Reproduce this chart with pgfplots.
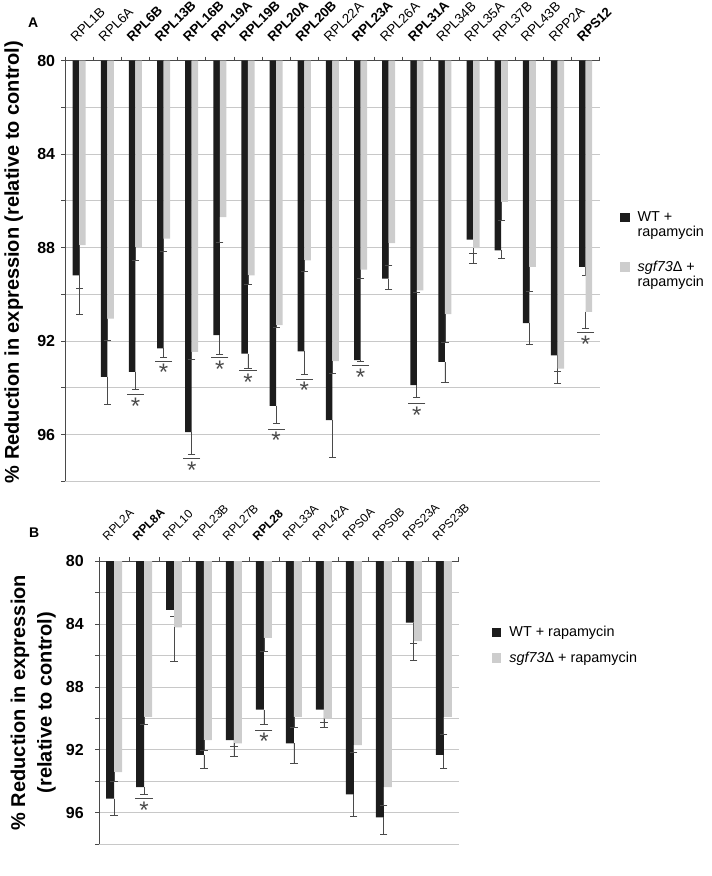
\documentclass[border=0pt]{standalone}
\usepackage{pgfplots}
\usepackage{pgfplotstable}
\pgfplotsset{compat=1.18}
\usepackage{fontspec}
\setmainfont{Liberation Sans}
\setsansfont{Liberation Sans}

\definecolor{barblack}{HTML}{1C1C1C}
\definecolor{bargrey}{HTML}{CDCDCD}
\definecolor{gridgrey}{HTML}{C8C8C8}
\definecolor{axisgrey}{HTML}{4A4A4A}

% idx, WT + rapamycin, its error, sgf73 + rapamycin, its error
\pgfplotstableread{
x wt wte sg sge
0 89.19 1.68 87.90 1.86
1 93.53 1.18 91.04 0.93
2 93.32 0.75 87.98 0.57
3 92.31 0.41 87.62 0.53
4 95.90 0.95 92.46 0.33
5 91.75 0.84 86.70 1.08
6 92.54 0.64 89.19 0.40
7 94.77 0.76 91.32 0.10
8 92.44 0.98 88.55 0.47
9 95.38 1.61 92.86 0.53
10 92.82 0.07 88.95 0.38
11 89.33 0.47 87.81 0.95
12 93.89 0.54 89.83 0.11
13 92.89 0.87 90.85 1.19
14 87.66 0.57 88.02 0.67
15 88.12 0.33 86.05 0.79
16 91.23 0.92 88.83 1.03
17 92.61 0.68 93.18 0.64
18 88.83 0.36 90.75 0.69
}\tabA

\pgfplotstableread{
x wt wte sg sge
0 95.11 1.09 93.43 0.57
1 94.38 0.46 89.91 0.49
2 83.10 0.42 84.21 2.18
3 92.33 0.83 91.38 0.67
4 91.38 1.05 91.59 0.21
5 89.45 0.95 84.88 0.88
6 91.59 1.26 89.91 0.69
7 89.45 0.84 90.02 0.53
8 94.84 1.40 91.70 0.46
9 96.31 1.09 94.38 1.19
10 83.90 1.36 85.09 1.20
11 92.33 0.83 89.91 1.12
}\tabB

% significance marks (x, y of the line)
\pgfplotstableread{
x y
2 94.30
3 92.86
4 97.02
5 92.71
6 93.28
7 95.77
8 93.63
10 93.06
12 94.67
18 91.64
}\sigA

\pgfplotstableread{
x y
1 95.09
5 90.75
}\sigB

\pgfplotsset{
  panel/.style={
    scale only axis,
    anchor=center,
    y dir=reverse,
    ymin=80, ymax=98,
    enlargelimits=false,
    ytick={80,82,...,98},
    yticklabels={80,,84,,88,,92,,96,},
    ymajorgrids,
    grid style={gridgrey, line width=0.6pt},
    axis x line*=top,
    axis y line*=left,
    axis line style={axisgrey, line width=0.8pt},
    tick align=outside,
    major tick length=3pt,
    minor tick length=3pt,
    major x tick style={draw=none},
    minor x tick style={axisgrey, line width=0.6pt},
    y tick style={axisgrey, line width=0.6pt},
    yticklabel style={font=\fontsize{12}{12}\selectfont\bfseries, xshift=-1pt},
    xticklabel style={rotate=45, anchor=base west, inner sep=0pt},
    ylabel style={font=\fontsize{15}{20}\selectfont\bfseries, anchor=center, align=center},
    legend cell align=left,
    legend style={draw=none, fill=none, font=\fontsize{10.8}{11.5}\selectfont,
      cells={align=left}, row sep=12.5pt, column sep=4pt},
  },
  sqlegend/.style={legend image code/.code={\fill[##1] (0pt,-3.6pt) rectangle (7.2pt,3.6pt);}},
  sqlegendup/.style={legend image code/.code={\fill[##1] (0pt,2.2pt) rectangle (7.2pt,9.4pt);}},
  errs/.style={error bars/.cd, y dir=plus, y explicit,
    error bar style={axisgrey, line width=0.6pt},
    error mark options={axisgrey, line width=0.6pt, mark size=2.7pt, rotate=90}},
  wtbar/.style={ybar, bar width=#1, bar shift=-#1/2, fill=barblack, draw=none, errs},
  sgbar/.style={ybar, bar width=#1, bar shift=#1/2, fill=bargrey, draw=none, errs},
  sigmark/.style={only marks, mark=-, mark size=6.4pt,
    mark options={axisgrey, line width=0.8pt}, forget plot,
    nodes near coords={*},
    every node near coord/.style={font=\fontsize{18}{18}\selectfont, text=axisgrey,
      anchor=base, inner sep=0pt, yshift=-14.8pt}},
}

\begin{document}
\begin{tikzpicture}[x=1pt,y=1pt]
\path (0,0) rectangle (531.75,-657);

\node[font=\fontsize{10.5}{10.5}\selectfont\bfseries] at (22.5,-16.5) {A};
\node[font=\fontsize{10.5}{10.5}\selectfont\bfseries] at (23.25,-399) {B};

\begin{axis}[panel,
  at={(247.125pt,-202.875pt)},
  width=401.25pt, height=315.75pt,
  xmin=-0.5, xmax=18.5,
  xtick={0,...,18},
  minor xtick={-0.5,0.5,...,18.5},
  xticklabel style={font=\fontsize{10}{11}\selectfont, xshift=5.5pt, yshift=9pt},
  xticklabels={RPL1B,RPL6A,\textbf{RPL6B},\textbf{RPL13B},\textbf{RPL16B},\textbf{RPL19A},
    \textbf{RPL19B},\textbf{RPL20A},\textbf{RPL20B},RPL22A,\textbf{RPL23A},RPL26A,
    \textbf{RPL31A},RPL34B,RPL35A,RPL37B,RPL43B,RPP2A,\textbf{RPS12}},
  ylabel={\% Reduction in expression (relative to control)},
  ylabel style={at={(axis description cs:-0.096,0.521)}},
  legend style={at={(axis description cs:1.03,0.654)}, anchor=north west},
]
\addplot[sqlegendup, wtbar=4.9pt] table[x=x, y=wt, y error=wte]{\tabA};
\addplot[sqlegendup, sgbar=4.9pt] table[x=x, y=sg, y error=sge]{\tabA};
\addplot[sigmark] table[x=x, y=y]{\sigA};
\legend{WT +\\rapamycin, \textit{sgf73}Δ +\\rapamycin}
\end{axis}

\begin{axis}[panel,
  at={(207pt,-526.875pt)},
  width=270pt, height=212.25pt,
  xmin=-0.5, xmax=11.5,
  xtick={0,...,11},
  minor xtick={-0.5,0.5,...,11.5},
  xticklabel style={font=\fontsize{9}{10}\selectfont, xshift=5pt, yshift=12pt},
  yticklabel style={xshift=-4pt},
  xticklabels={RPL2A,\textbf{RPL8A},RPL10,RPL23B,RPL27B,\textbf{RPL28},RPL33A,RPL42A,
    RPS0A,RPS0B,RPS23A,RPS23B},
  ylabel={\% Reduction in expression\\(relative to control)},
  ylabel style={at={(axis description cs:-0.183,0.5)}},
  legend style={at={(axis description cs:1.08,0.79)}, anchor=north west, row sep=6pt},
]
\addplot[sqlegend, wtbar=6pt] table[x=x, y=wt, y error=wte]{\tabB};
\addplot[sqlegend, sgbar=6pt] table[x=x, y=sg, y error=sge]{\tabB};
\addplot[sigmark] table[x=x, y=y]{\sigB};
\legend{WT + rapamycin, \textit{sgf73}Δ + rapamycin}
\end{axis}
\end{tikzpicture}
\end{document}
